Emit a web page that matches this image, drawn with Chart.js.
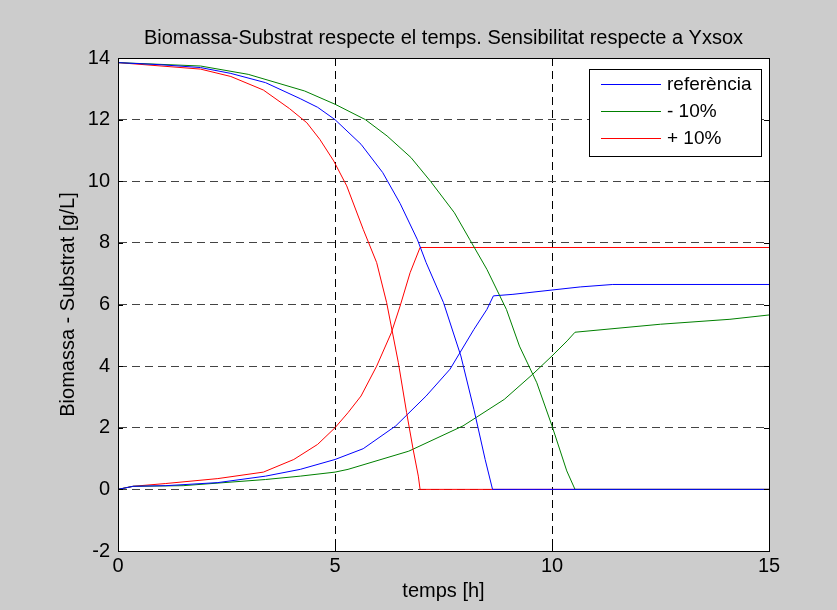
<!DOCTYPE html>
<html>
<head>
<meta charset="utf-8">
<script src="https://cdn.jsdelivr.net/npm/chart.js@4/dist/chart.umd.min.js"></script>
<style>
  html, body { margin: 0; padding: 0; background: #cccccc; }
  #wrap { width: 837px; height: 610px; }
</style>
</head>
<body>
<div id="wrap"><canvas id="c" width="837" height="610"></canvas></div>
<script>
// ---- data ----
const titleText = 'Biomassa-Substrat respecte el temps. Sensibilitat respecte a Yxsox';
const xAxisLabel = 'temps [h]';
const yAxisLabel = 'Biomassa - Substrat [g/L]';
const legendLabels = ['referència', '- 10%', '+ 10%'];
const seriesColors = ['#0000ff', '#008000', '#ff0000'];
const xTicks = [0, 5, 10, 15];
const yTicks = [-2, 0, 2, 4, 6, 8, 10, 12, 14];

// referència
const refSubT = [0, 1, 1.9, 2.6, 3.4, 4.2, 4.6, 5.0, 5.6, 6.1, 6.5, 6.9, 7.1, 7.5, 7.9, 8.2, 8.46, 8.63, 15];
const refSubV = [13.85, 13.78, 13.69, 13.5, 13.2, 12.68, 12.4, 12.0, 11.2, 10.28, 9.28, 8.1, 7.36, 6.06, 4.33, 2.6, 0.97, 0.0, 0.0];
const refBioT = [0, 0.35, 1.1, 2.3, 3.4, 4.2, 5.0, 5.65, 6.4, 7.1, 7.65, 8.2, 8.5, 8.65, 9.1, 10.0, 10.65, 11.4, 15];
const refBioV = [0.0, 0.1, 0.12, 0.22, 0.43, 0.65, 0.97, 1.32, 2.06, 3.03, 3.9, 5.19, 5.84, 6.28, 6.33, 6.47, 6.57, 6.65, 6.65];

// - 10%
const minusSubT = [0, 1.9, 3.0, 4.3, 5.0, 5.7, 6.2, 6.75, 7.2, 7.75, 8.1, 8.5, 8.95, 9.25, 9.65, 10.0, 10.34, 10.53, 15];
const minusSubV = [13.85, 13.74, 13.47, 12.93, 12.5, 12.0, 11.47, 10.77, 10.0, 8.98, 8.12, 7.14, 5.84, 4.65, 3.46, 2.06, 0.6, 0.0, 0.0];
const minusBioT = [0, 0.35, 1.5, 3.4, 4.2, 5.0, 5.3, 6.7, 7.95, 8.9, 9.55, 10.0, 10.35, 10.53, 12.5, 14.1, 15];
const minusBioV = [0.0, 0.1, 0.12, 0.32, 0.43, 0.56, 0.65, 1.24, 2.06, 2.92, 3.73, 4.33, 4.82, 5.1, 5.36, 5.52, 5.66];

// + 10%
const plusSubT = [0, 1.9, 2.6, 3.35, 3.95, 4.35, 4.65, 4.97, 5.27, 5.65, 5.96, 6.19, 6.46, 6.65, 6.8, 6.92, 6.96, 15];
const plusSubV = [13.85, 13.64, 13.4, 12.96, 12.36, 11.9, 11.36, 10.66, 9.85, 8.44, 7.36, 6.06, 4.11, 2.49, 1.3, 0.43, 0.0, 0.0];
const plusBioT = [0, 0.35, 1.1, 2.3, 3.35, 4.05, 4.6, 5.0, 5.3, 5.6, 5.96, 6.3, 6.5, 6.73, 6.96, 15];
const plusBioV = [0.0, 0.1, 0.19, 0.35, 0.56, 0.97, 1.46, 2.0, 2.49, 3.03, 4.0, 5.09, 5.95, 7.03, 7.85, 7.85];

// ---- build datasets ----
const pts = (xs, ys) => xs.map((x, i) => ({ x: x, y: ys[i] }));
const mk = (label, color, xs, ys) => ({
  label: label, data: pts(xs, ys), borderColor: color, backgroundColor: color,
  borderWidth: 1, pointRadius: 0, tension: 0, fill: false
});
const datasets = [
  mk(legendLabels[0], seriesColors[0], refSubT, refSubV),
  mk(legendLabels[1], seriesColors[1], minusSubT, minusSubV),
  mk(legendLabels[2], seriesColors[2], plusSubT, plusSubV),
  mk(legendLabels[0], seriesColors[0], refBioT, refBioV),
  mk(legendLabels[1], seriesColors[1], minusBioT, minusBioV),
  mk(legendLabels[2], seriesColors[2], plusBioT, plusBioV)
];

const FONT = 'Arial, "Liberation Sans", sans-serif';

const bgPlugin = {
  id: 'bg',
  beforeDraw(chart) {
    const ctx = chart.ctx, a = chart.chartArea;
    ctx.save();
    ctx.fillStyle = '#cccccc';
    ctx.fillRect(0, 0, chart.width, chart.height);
    ctx.fillStyle = '#ffffff';
    ctx.fillRect(a.left, a.top, a.right - a.left, a.bottom - a.top);
    ctx.restore();
  },
  afterDraw(chart) {
    const ctx = chart.ctx, a = chart.chartArea;
    const xs = chart.scales.x, ys = chart.scales.y;
    ctx.save();
    // title centred over the plot area
    ctx.fillStyle = '#000';
    ctx.font = '20px ' + FONT;
    ctx.textAlign = 'center';
    ctx.textBaseline = 'middle';
    ctx.fillText(titleText, (a.left + a.right) / 2, a.top - 20);

    ctx.strokeStyle = '#000';
    ctx.lineWidth = 1;
    ctx.setLineDash([]);
    // box
    ctx.strokeRect(Math.round(a.left) + 0.5, Math.round(a.top) + 0.5,
      Math.round(a.right - a.left), Math.round(a.bottom - a.top));
    // inner ticks
    const tl = 5;
    ctx.beginPath();
    xTicks.forEach(v => {
      const px = Math.round(xs.getPixelForValue(v)) + 0.5;
      ctx.moveTo(px, a.bottom); ctx.lineTo(px, a.bottom - tl);
      ctx.moveTo(px, a.top); ctx.lineTo(px, a.top + tl);
    });
    yTicks.forEach(v => {
      const py = Math.round(ys.getPixelForValue(v)) + 0.5;
      ctx.moveTo(a.left, py); ctx.lineTo(a.left + tl, py);
      ctx.moveTo(a.right, py); ctx.lineTo(a.right - tl, py);
    });
    ctx.stroke();

    // legend
    const bw = 172, bh = 87;
    const bx = Math.round(a.right - 8 - bw), by = Math.round(a.top + 11);
    ctx.fillStyle = '#fff';
    ctx.fillRect(bx, by, bw, bh);
    ctx.strokeStyle = '#000';
    ctx.strokeRect(bx + 0.5, by + 0.5, bw, bh);
    ctx.font = '19px ' + FONT;
    ctx.textBaseline = 'middle';
    ctx.textAlign = 'left';
    legendLabels.forEach((lab, i) => {
      const y = Math.round(by + 15 + i * 27) + 0.5;
      ctx.beginPath();
      ctx.strokeStyle = seriesColors[i];
      ctx.moveTo(bx + 12, y);
      ctx.lineTo(bx + 72, y);
      ctx.stroke();
      ctx.fillStyle = '#000';
      ctx.fillText(lab, bx + 78, y);
    });
    ctx.restore();
  }
};

new Chart(document.getElementById('c'), {
  type: 'line',
  data: { datasets: datasets },
  plugins: [bgPlugin],
  options: {
    responsive: false,
    animation: false,
    layout: { padding: { left: 0, right: 68, top: 58, bottom: 0 } },
    plugins: {
      legend: { display: false },
      tooltip: { enabled: false },
      title: { display: false }
    },
    scales: {
      x: {
        type: 'linear', min: 0, max: 15,
        afterFit(s) { s.height = 59; },
        afterBuildTicks(s) { s.ticks = xTicks.map(v => ({ value: v })); },
        ticks: { color: '#000', font: { family: FONT, size: 20 }, padding: 3, maxRotation: 0 },
        grid: { color: '#000', lineWidth: 1, drawTicks: false },
        border: { display: true, color: '#000', dash: [8, 5] },
        title: { display: true, text: xAxisLabel, color: '#000',
          font: { family: FONT, size: 20 }, padding: { top: 0, bottom: 7 } }
      },
      y: {
        type: 'linear', min: -2, max: 14,
        afterFit(s) { s.width = 118; },
        afterBuildTicks(s) { s.ticks = yTicks.map(v => ({ value: v })); },
        ticks: { color: '#000', font: { family: FONT, size: 20 }, padding: 8 },
        grid: { color: '#444', lineWidth: 1, drawTicks: false },
        border: { display: true, color: '#000', dash: [8, 5] },
        title: { display: true, text: yAxisLabel, color: '#000',
          font: { family: FONT, size: 20 }, padding: { top: 56, bottom: 0 } }
      }
    }
  }
});
</script>
</body>
</html>
